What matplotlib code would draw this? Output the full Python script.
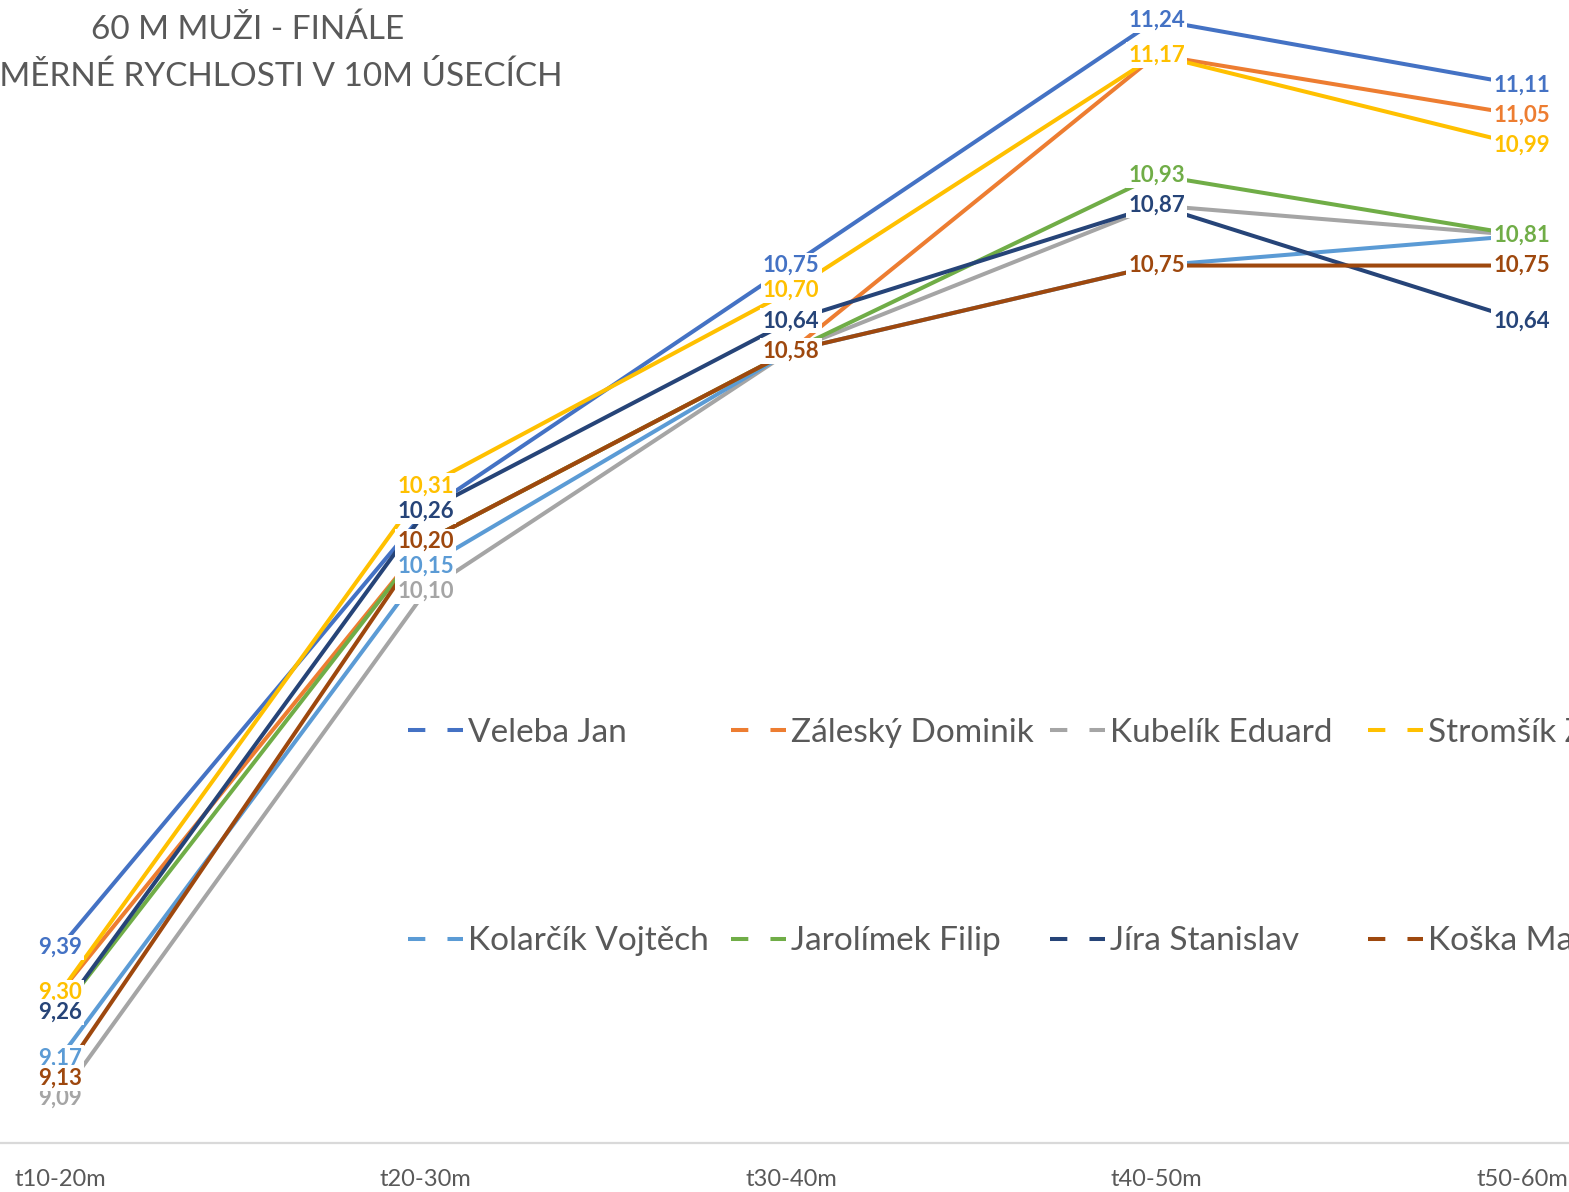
import numpy as np
import matplotlib
matplotlib.use("Agg")
from matplotlib import pyplot as plt
from matplotlib.lines import Line2D

categories = ['t10-20m', 't20-30m', 't30-40m', 't40-50m', 't50-60m']

names = ['Veleba Jan', 'Záleský Dominik', 'Kubelík Eduard', 'Stromšík Zdeněk',
         'Kolarčík Vojtěch', 'Jarolímek Filip', 'Jíra Stanislav', 'Koška Marek']

veleba    = [9.39, 10.26, 10.75, 11.24, 11.11]
zalesky   = [9.30, 10.20, 10.58, 11.17, 11.05]
kubelik   = [9.09, 10.10, 10.58, 10.87, 10.81]
stromsik  = [9.30, 10.31, 10.70, 11.17, 10.99]
kolarcik  = [9.17, 10.15, 10.58, 10.75, 10.81]
jarolimek = [9.26, 10.20, 10.58, 10.93, 10.81]
jira      = [9.26, 10.26, 10.64, 10.87, 10.64]
koska     = [9.13, 10.20, 10.58, 10.75, 10.75]

series = [veleba, zalesky, kubelik, stromsik, kolarcik, jarolimek, jira, koska]
colors = ['#4472C4', '#ED7D31', '#A5A5A5', '#FFC000',
          '#5B9BD5', '#70AD47', '#264478', '#9E480E']

W, H = 1569, 1192
fig = plt.figure(figsize=(W / 100, H / 100), dpi=100)
ax = fig.add_axes([0, 49 / H, 1, 1143 / H])

x = np.arange(len(categories))
for i, vals in enumerate(series):
    ax.plot(x, vals, color=colors[i], lw=2.9, solid_capstyle='butt', zorder=2)

# data labels, centred on the points with white boxes (later series on top)
for i, vals in enumerate(series):
    for xi, v in zip(x, vals):
        ax.text(xi, v, f'{v:.2f}'.replace('.', ','), color=colors[i],
                fontsize=16, fontweight='bold', family='Lato',
                ha='center', va='center', zorder=3 + i,
                bbox=dict(facecolor='white', edgecolor='none', pad=1.6))

ax.set_xlim(-60 / 365.5, (W - 60) / 365.5)
ax.set_ylim(9.0, 9.0 + 1143 / 501.4)
ax.set_xticks(x)
ax.set_xticklabels(categories, fontsize=17, color='#595959', family='Lato')
ax.tick_params(axis='x', length=0, pad=19)
ax.set_yticks([])
for s in ['top', 'left', 'right']:
    ax.spines[s].set_visible(False)
ax.spines['bottom'].set_color('#D9D9D9')
ax.spines['bottom'].set_linewidth(1.6)

# legend: 2 rows x 4 equal-width columns (one legend per column)
col_x = [408, 731, 1050, 1368]
for c in range(4):
    idx = [c, c + 4]
    handles = [Line2D([], [], color=colors[k], lw=2.9, dashes=(4.3, 5.5, 4.3, 20))
               for k in idx]
    leg = ax.legend(handles, [names[k] for k in idx], loc='upper left',
                    bbox_to_anchor=(col_x[c] / W, 1 - 718 / H),
                    bbox_transform=fig.transFigure, frameon=False,
                    prop={'family': 'Lato', 'size': 24}, labelcolor='#595959',
                    handlelength=1.65, handletextpad=0.15, labelspacing=5.35,
                    borderpad=0, borderaxespad=0)
    if c < 3:
        ax.add_artist(leg)

fig.text(248 / W, 1 - 30 / H, '60 M MUŽI - FINÁLE', ha='center', va='center',
         fontsize=24, color='#595959', family='Lato')
fig.text(248 / W, 1 - 77 / H, 'PRŮMĚRNÉ RYCHLOSTI V 10M ÚSECÍCH', ha='center',
         va='center', fontsize=24, color='#595959', family='Lato')

fig.savefig('out.png', dpi=100)
